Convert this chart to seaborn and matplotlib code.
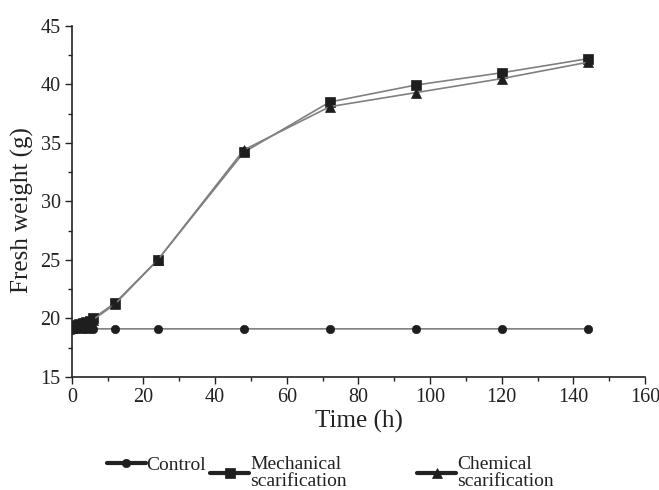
import matplotlib
matplotlib.use("Agg")
import matplotlib.pyplot as plt
import seaborn as sns
import pandas as pd
from matplotlib.ticker import MultipleLocator

time_h = [0, 1, 2, 3, 4, 5, 6, 12, 24, 48, 72, 96, 120, 144]
control = [19.0, 19.1, 19.1, 19.1, 19.1, 19.1, 19.1, 19.1, 19.1, 19.1, 19.1, 19.1, 19.1, 19.1]
mechanical = [19.2, 19.4, 19.5, 19.6, 19.7, 19.8, 20.0, 21.3, 25.0, 34.2, 38.5, 39.95, 41.0, 42.2]
chemical = [19.2, 19.3, 19.5, 19.6, 19.7, 19.8, 19.9, 21.2, 25.0, 34.4, 38.1, 39.3, 40.5, 41.9]
series_names = ["Control", "Mechanical\nscarification", "Chemical\nscarification"]
x_ticks = [0, 20, 40, 60, 80, 100, 120, 140, 160]
y_ticks = [15, 20, 25, 30, 35, 40, 45]

sns.set_style("ticks")
plt.rcParams['font.family'] = ['Liberation Serif', 'DejaVu Serif']

fig = plt.figure(figsize=(6.59, 4.90), dpi=100)
ax = fig.add_subplot(111)
fig.subplots_adjust(left=0.109, right=0.979, top=0.947, bottom=0.231)

line_col = "#808080"
mark_col = "#1e1e1e"
markers = ["o", "s", "^"]
sizes = [6.0, 7.0, 7.5]
for name, vals, mk, ms in zip(series_names, [control, mechanical, chemical], markers, sizes):
    df = pd.DataFrame({"t": time_h, "w": vals})
    sns.lineplot(data=df, x="t", y="w", ax=ax, color=line_col, marker=mk,
                 markersize=ms, linewidth=1.2, label=name, legend=False)

for ln in ax.lines:
    ln.set_markerfacecolor(mark_col)
    ln.set_markeredgecolor(mark_col)
    ln.set_markeredgewidth(0.5)

ax.set_xlim(0, 160)
ax.set_ylim(15, 45)
ax.set_xticks(x_ticks)
ax.set_yticks(y_ticks)
ax.xaxis.set_minor_locator(MultipleLocator(10))
ax.yaxis.set_minor_locator(MultipleLocator(2.5))
ax.tick_params(axis="both", which="major", direction="out", length=5, width=1.0,
               labelsize=14.5, colors="#222222", pad=3)
ax.tick_params(axis="both", which="minor", direction="out", length=3, width=1.0, colors="#222222")
for sp in ["left", "bottom"]:
    ax.spines[sp].set_linewidth(1.2)
    ax.spines[sp].set_color("#222222")
sns.despine(ax=ax)

ax.set_xlabel("Time (h)", fontsize=18, color="#222222", labelpad=2)
ax.set_ylabel("Fresh weight (g)", fontsize=18, color="#222222")
ax.yaxis.set_label_coords(-0.066, 0.475)

handles = ax.lines[:3]
positions = [(0.162, 0.051), (0.319, 0.035), (0.633, 0.035)]
for h, lab, pos in zip(handles, series_names, positions):
    lg = fig.legend([h], [lab], loc="center left", bbox_to_anchor=pos,
                    frameon=False, fontsize=14, handlelength=2.0, handletextpad=0.05,
                    borderpad=0, borderaxespad=0, labelspacing=0)
    for t in lg.get_texts():
        t.set_color("#222222")
        t.set_linespacing(0.95)
    for lh in lg.legend_handles:
        lh.set_linewidth(3.0)
        lh.set_color("#222222")

fig.savefig("out.png", dpi=100)
